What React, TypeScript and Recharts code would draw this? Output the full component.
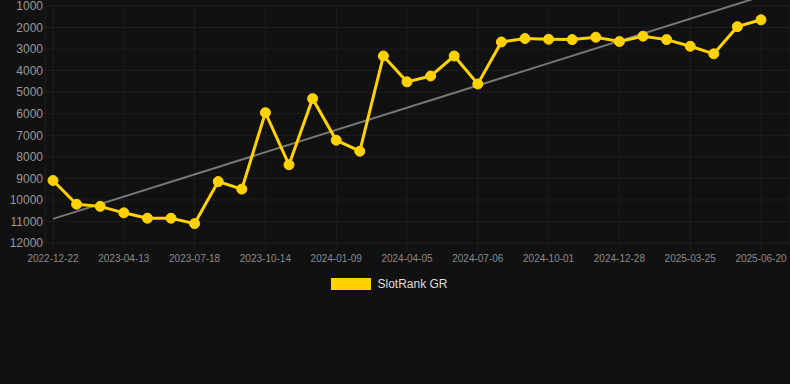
import React from 'react'
import {
  LineChart,
  Line,
  XAxis,
  YAxis,
  CartesianGrid,
  Legend,
  ReferenceLine,
} from 'recharts'

// dates of each ranking snapshot (only every 3rd is labelled on the axis)
const dates = [
  '2022-12-22', '2023-01-28', '2023-03-06', '2023-04-13', '2023-05-15', '2023-06-16',
  '2023-07-18', '2023-08-16', '2023-09-15', '2023-10-14', '2023-11-11', '2023-12-10',
  '2024-01-09', '2024-02-07', '2024-03-07', '2024-04-05', '2024-05-06', '2024-06-05',
  '2024-07-06', '2024-08-04', '2024-09-02', '2024-10-01', '2024-10-30', '2024-11-28',
  '2024-12-28', '2025-01-26', '2025-02-24', '2025-03-25', '2025-04-23', '2025-05-22',
  '2025-06-20',
]

const rankGR = [
  9100, 10200, 10300, 10600, 10850, 10850,
  11100, 9150, 9500, 5950, 8370, 5300,
  7230, 7740, 3320, 4520, 4250, 3320,
  4620, 2670, 2510, 2545, 2560, 2450,
  2650, 2400, 2560, 2870, 3220, 1960,
  1640,
]

const labelledDates = [
  '2022-12-22', '2023-04-13', '2023-07-18', '2023-10-14', '2024-01-09', '2024-04-05',
  '2024-07-06', '2024-10-01', '2024-12-28', '2025-03-25', '2025-06-20',
]

const yTicks = [1000, 2000, 3000, 4000, 5000, 6000, 7000, 8000, 9000, 10000, 11000, 12000]

// trend line value at first and last date
const trendEnds = [10880, 560]

const rows = dates.map((date, i) => ({ date, rank: rankGR[i] }))

const GOLD = '#FFD200'
const GRID = '#1e1e1e'

const LegendBox = () => (
  <div
    style={{
      height: 22,
      display: 'flex',
      alignItems: 'center',
      justifyContent: 'center',
      paddingRight: 11,
      fontFamily: '"Liberation Sans", Arial, sans-serif',
      fontSize: 12,
      color: '#dddddd',
    }}
  >
    <span style={{ width: 40, height: 12, background: GOLD, marginRight: 6, display: 'inline-block' }} />
    SlotRank GR
  </div>
)

export default function App() {
  return (
    <div
      style={{
        position: 'fixed',
        top: 0,
        left: 0,
        width: 790,
        height: 384,
        background: '#111111',
        fontFamily: '"Liberation Sans", Arial, sans-serif',
      }}
    >
      <LineChart width={790} height={384} data={rows} margin={{ top: 6, right: 0, left: 0, bottom: 89 }}>
        <CartesianGrid stroke={GRID} strokeWidth={1} />
        <XAxis
          dataKey="date"
          ticks={labelledDates}
          interval={0}
          padding={{ left: 8, right: 29 }}
          axisLine={false}
          tickLine={{ stroke: GRID }}
          tickSize={7}
          tickMargin={5}
          height={30}
          tick={{ fontSize: 10, fill: '#8a8a8a' }}
        />
        <YAxis
          reversed
          domain={[1000, 12000]}
          ticks={yTicks}
          interval={0}
          width={45}
          axisLine={false}
          tickLine={false}
          tickSize={0}
          tickMargin={2}
          tick={{ fontSize: 12, fill: '#999999' }}
        />
        <Legend verticalAlign="bottom" content={<LegendBox />} />
        <ReferenceLine
          segment={[
            { x: dates[0], y: trendEnds[0] },
            { x: dates[dates.length - 1], y: trendEnds[1] },
          ]}
          ifOverflow="visible"
          stroke="#777777"
          strokeWidth={2}
        />
        <Line
          type="linear"
          dataKey="rank"
          name="SlotRank GR"
          stroke={GOLD}
          strokeWidth={3}
          dot={{ r: 5, fill: GOLD, stroke: GOLD, strokeWidth: 1 }}
          isAnimationActive={false}
        />
      </LineChart>
    </div>
  )
}
